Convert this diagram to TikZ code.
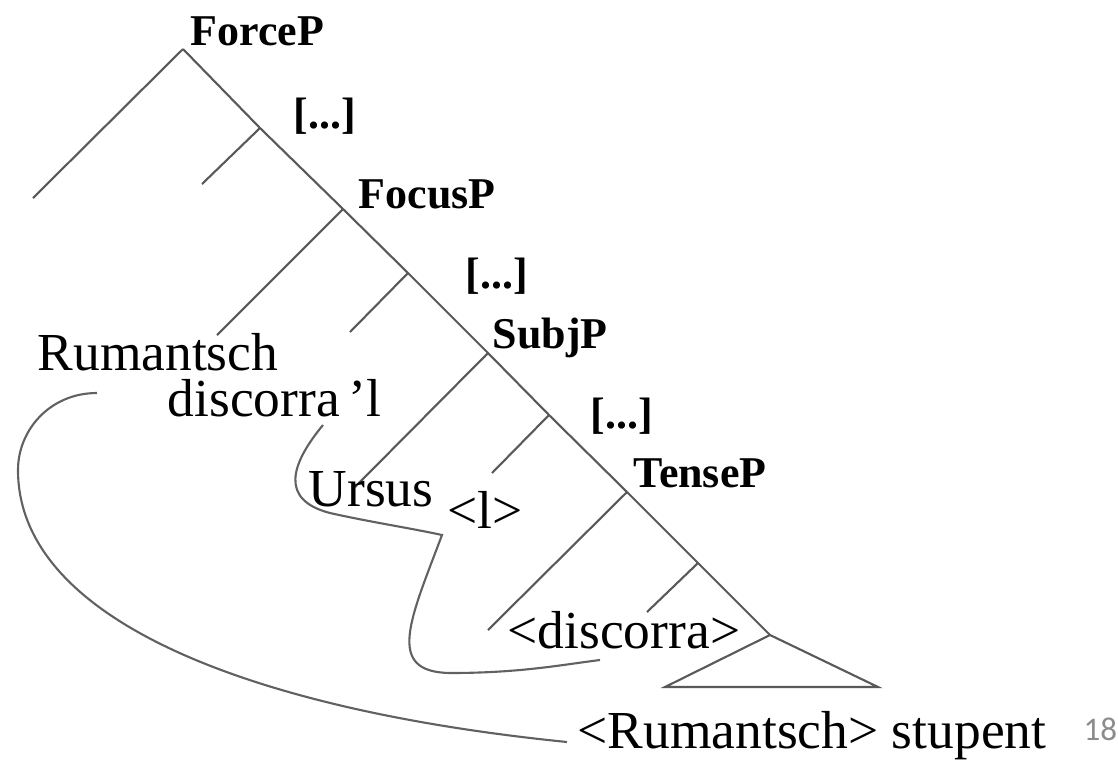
\documentclass[tikz,border=0pt]{standalone}
\usepackage{fontspec}
\setmainfont{Liberation Serif}
\newfontfamily\pagefont{Carlito}

\begin{document}
\begin{tikzpicture}[x=0.01cm,y=-0.01cm,
  branch/.style={draw=black!65,line width=0.6pt},
  move/.style={draw=black!62,line width=0.6pt},
  cat/.style={anchor=base west,inner sep=0pt,font=\fontsize{12.5}{15}\selectfont\bfseries},
  word/.style={anchor=base west,inner sep=0pt,font=\fontsize{15.2}{18}\selectfont}]
\useasboundingbox (0,0) rectangle (1118,760);

% spine
\coordinate (force) at (183,49);
\coordinate (bar1) at (260,128);
\coordinate (focus) at (343,209);
\coordinate (bar2) at (408,273);
\coordinate (subj) at (488,353);
\coordinate (bar3) at (549,415);
\coordinate (tense) at (627,492);
\coordinate (bar4) at (698,563);
\coordinate (vp) at (770,635);

% left daughters
\coordinate (force-l) at (33,198);
\coordinate (bar1-l) at (202,184);
\coordinate (focus-l) at (217,335);
\coordinate (bar2-l) at (350,332);
\coordinate (subj-l) at (355,487);
\coordinate (bar3-l) at (492,473);
\coordinate (tense-l) at (488,630);
\coordinate (bar4-l) at (647,612);
\coordinate (vp-l) at (665,687);
\coordinate (vp-r) at (878,687);

\path [branch] (force) -- (bar1) -- (focus) -- (bar2) -- (subj) -- (bar3) -- (tense) -- (bar4) -- (vp);
\path [branch] (force) -- (force-l);
\path [branch] (bar1) -- (bar1-l);
\path [branch] (focus) -- (focus-l);
\path [branch] (bar2) -- (bar2-l);
\path [branch] (subj) -- (subj-l);
\path [branch] (bar3) -- (bar3-l);
\path [branch] (tense) -- (tense-l);
\path [branch] (bar4) -- (bar4-l);
\path [branch] (vp) -- (vp-l) -- (vp-r) -- cycle;

% labels
\node[cat] (forcep) at (190,45) {ForceP};
\node[cat] (dots1) at (293,128) {[...]};
\node[cat] (focusp) at (358,208) {FocusP};
\node[cat] (dots2) at (465,288) {[...]};
\node[cat] (subjp) at (492,348) {SubjP};
\node[cat] (dots3) at (590,428) {[...]};
\node[cat] (tensep) at (633,487) {TenseP};

\node[word] (rum) at (37,370) {Rumantsch};
\node[word] (disc) at (167,416) {discorra\,’l};
\node[word] (ursus) at (308,506) {Ursus};
\node[word] (cl) at (447,528) {<l>};
\node[word] (disctr) at (507,648) {<discorra>};
\node[word] (rumtr) at (577,748) {<Rumantsch> stupent};
\node[anchor=base west,inner sep=0pt,font=\pagefont\fontsize{9.4}{11}\selectfont,text=black!45] (pgno) at (1083,740) {18};

% movement lines
\coordinate (rum0) at (97,393);
\coordinate (rum1) at (567,742);
\coordinate (dis0) at (323,425);
\coordinate (dis1) at (442,535);
\coordinate (dis2) at (600,660);
\path [move] (rum0) .. controls (50,393) and (18,430) .. (18,470)
  .. controls (18,620) and (250,710) .. (rum1);
\path [move] (dis0) .. controls (290,465) and (280,500) .. (330,513)
  .. controls (370,522) and (410,528) .. (dis1)
  .. controls (410,620) and (385,672) .. (450,673)
  .. controls (520,673) and (560,665) .. (dis2);
\end{tikzpicture}
\end{document}
